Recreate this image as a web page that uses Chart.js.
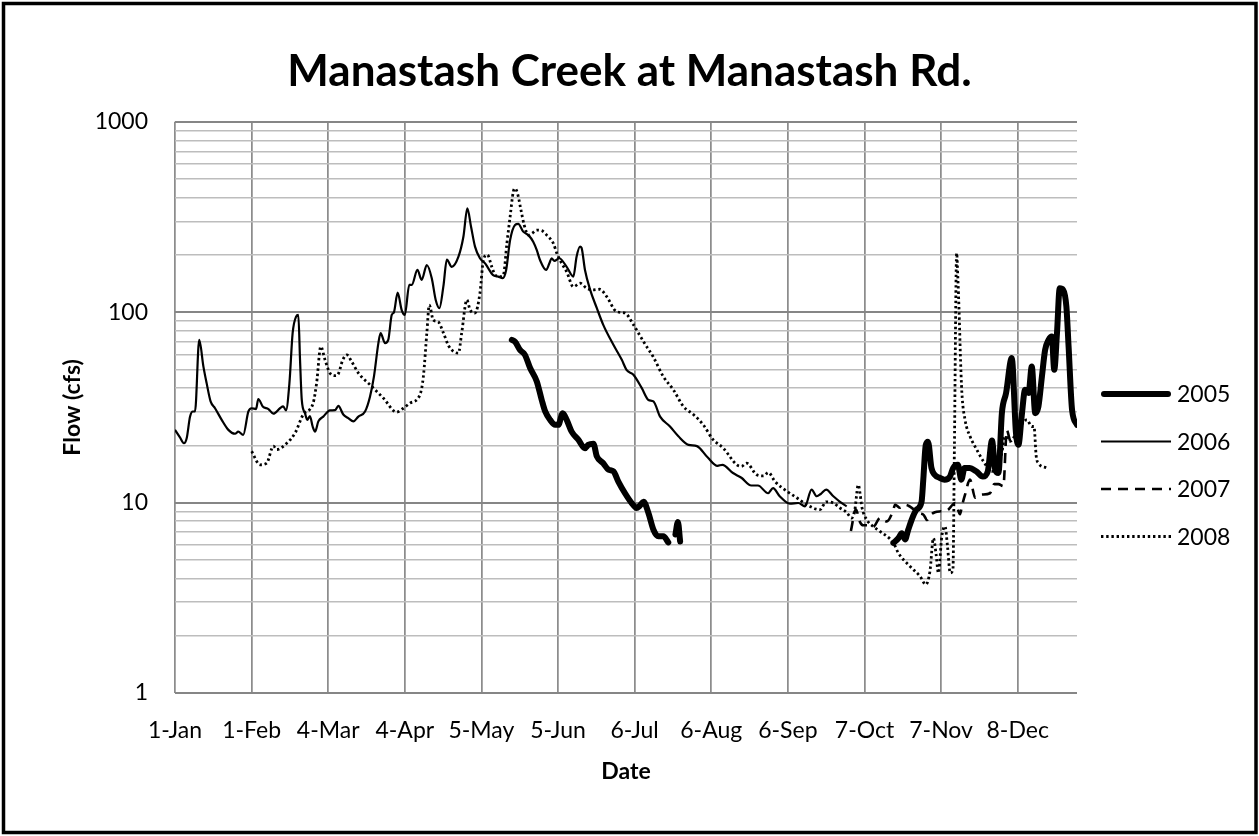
<!DOCTYPE html>
<html>
<head>
<meta charset="utf-8">
<script src="https://cdn.jsdelivr.net/npm/chart.js@4.4.1/dist/chart.umd.min.js"></script>
<style>
  html, body { margin: 0; padding: 0; background: #fff; }
  canvas { display: block; }
</style>
</head>
<body>
<canvas id="c" width="1259" height="836"></canvas>
<script>
// ---- Data (day index: 0 = 1-Jan) ----
const xTickDays = [0, 31, 62, 93, 124, 155, 186, 217, 248, 279, 310, 341];
const xTickLabels = ['1-Jan', '1-Feb', '4-Mar', '4-Apr', '5-May', '5-Jun', '6-Jul', '6-Aug', '6-Sep', '7-Oct', '7-Nov', '8-Dec'];
const yTickLabels = [1, 10, 100, 1000];
const seriesNames = ['2005', '2006', '2007', '2008'];

const days2005 = [136.3,137.6,139.6,141.6,143.7,146.4,148.4,149.8,151.8,153.8,155.1,156.9,158.5,160.5,163.2,165.9,167.2,169.3,170.7,173.3,175.4,177.4,179.4,182.1,184.8,186.8,188,189.6,191.6,193.6,195.6,197.6,199.6,
  201,202.5,203.5,204.4,
  250,
  290.7,292.7,294.1,295.4,296.7,298.7,300.1,302.1,302.8,303.8,304.7,306.1,307.4,309.4,311.4,313.6,314.9,316.8,318.2,319.5,321.5,324.2,326.9,328.9,330.6,331.9,333.2,334.6,336.3,338.6,340.3,341.3,342.6,344,345.4,346.7,348.1,349.4,350.8,352.1,353.5,354.8,355.8,356.9,358,359.4,360.7,361.6,363,365];
const flow2005 = [71.5,70,63.4,59.7,50.9,43.3,34.6,30.1,27.2,25.6,25.6,29.5,27.2,23.6,21.4,19.3,20.1,20.4,17.5,16.1,14.9,14.6,12.9,11.2,9.95,9.37,9.6,10.1,8.8,7.2,6.65,6.65,6.18,
  null,6.8,7.9,6.25,
  null,
  6.14,6.5,6.9,6.4,7.2,8.5,9.2,10.1,13.2,20.1,20.9,15.2,14,13.5,13.2,13.7,15.2,15.8,13.2,15.2,15.2,14.6,13.7,14.6,21.2,14.9,14.3,29.5,37.6,57.4,23.2,20.1,28.3,39.1,37.6,51.8,29.5,32,45.9,63.4,71.5,74.5,49.8,77.6,133.6,131,107,66,30.7,25.6];

const days2006 = [0,2,3.6,4.7,6.1,7.2,8.1,9.8,11.5,12.8,14.4,16.2,18.9,21.6,24.3,25.6,27.6,29.7,31,32.8,33.7,35.5,37.8,39.8,42.5,43.8,44.9,46.3,47.6,49,49.9,50.6,51.3,52.6,53.5,54.6,55.7,56.7,58,60,62.7,64.8,66.1,68.1,70.1,72.2,74.2,76.9,78.9,80.5,82.3,83.2,85,86.3,87.7,88.6,90.1,91.7,93,94.8,95.8,98.1,99.8,101.9,103.9,105.5,107,108.6,110,112,114.7,116.7,118.3,119.8,121.4,123.4,125.5,126.8,128.6,130.8,132.6,134,135.6,137.6,138.9,140.9,143,145,146.4,147.7,150.2,151.5,152.4,153.5,155.5,158.5,161.2,162.5,163.9,164.5,165.9,168,170.7,173.3,177.4,180.8,182.7,185.5,188.9,191.6,193.6,196.3,200.3,203.7,207.8,211.2,215.5,219.5,221.5,225.8,229.2,233.2,235.9,240,242,244.7,248.8,252.2,254.9,257.6,259.7,261.3,263.5,266.4,269.1,271.8];
const flow2006 = [24.1,22,20.5,21.7,28.3,30.1,30.1,71.5,51.8,42.4,34,31.3,27.2,24.1,23,23.6,22.7,30.1,31.3,31,35,32,31,29.3,31.3,32,30.5,42.4,77.6,94.8,96.7,56,34.6,29.5,27.2,28.5,25.1,23.6,26.7,28.3,30.5,30.6,32.2,29,27.8,26.7,28.3,30.1,36,45.9,68.8,77.6,68.8,71.5,96.7,100,126.7,102.9,96.7,139,139,166.7,148,177,150.8,116,105,136.6,189,173,195.7,249,351,281,221,192,180.6,170,157,153.8,150.8,166.7,239,287,291,265,254,234,212,188,166.7,180.6,192,186,192,173,153.8,195.7,221,218,166.7,131,105,85.8,67.4,56.2,49.8,46.9,39.9,34.6,34,28.3,25.1,22.3,20.1,19.8,17.3,15.6,15.8,14.3,13.5,12.3,12.3,11.2,11.9,10.8,9.87,9.95,9.55,11.7,10.8,11.1,11.7,10.8,10.1,9.55];

const days2007 = [273.5,275.5,277.2,278.5,280.5,282.5,285.3,288,290.5,291.4,293.4,295.4,297,299,301,303,304.3,305.7,307.5,310,312.5,315.7,317.7,318.4,319.7,321.7,323.8,326,329.8,331.5,333.2,335.2,336.6,338,339.3,341.3];
const flow2007 = [7.1,9.2,7.9,7.6,7.6,7.45,8.3,7.97,9,9.75,9.4,9.75,9.6,9.2,8.8,8.6,8.1,8.6,8.9,9,9.1,9.95,8.7,9.55,11,13.2,10.6,11,11.2,12.5,12.5,12.2,24,21,20.5,21.8];

const days2008 = [31,34.4,37.1,39.8,41.2,45.2,48.6,51.9,55.9,57.3,59,60.7,62.7,64.8,66.1,67.9,69.5,71.5,74.2,78.9,84.3,89.7,92.4,95.1,99.1,100.5,101.9,102.9,104.5,106.5,108.6,110.6,112.8,114.7,116,118.1,119.4,121.4,123.4,124.8,126.4,128.2,129.5,131.6,132.9,134.3,135.6,136.9,137.6,138.6,140,141.3,143,144.4,146.4,148.4,150.4,153.1,154.5,156.5,158.5,161.2,163.9,166.6,169.3,171.9,174.7,178.7,182.1,185.5,189.6,193.6,197.6,201.7,205.7,209.8,213.8,217.5,221.9,227.3,229.2,231.3,235.4,238.1,240.1,242.8,247.5,251.6,255.6,261,263.5,266.4,269.1,271.8,273.8,275.1,276.5,277.2,277.9,279.9,282.5,285.3,290.7,292.7,297.4,301.5,303.8,305.5,306.9,308,308.9,310.3,311.6,312.6,313.7,314.8,315.4,316.3,316.8,317.3,317.8,318.4,319.7,321.7,324.4,327.1,330.5,332.5,334.5,335.9,338,341,344.7,346.7,347.6,348.5,349.4,352.8];
const flow2008 = [18.6,15.8,16.1,19.8,19,20.5,23.2,29,33.3,42.4,66,56.2,47.9,46.4,47.5,56.2,59.7,55,47.9,41.6,35.4,29.9,31.3,33.3,36.8,45.9,77.6,109,91,89,78,67,62,61,77.6,116,103,99,126,188,200,173,157,153.8,157,230,317,430,447,421,344,287,254,259,270,268,254,230,204,180.6,163,136,142,133.6,131,132,120.7,100.7,99,86,70,58,45.9,39.1,32,29,25.6,21.6,19.3,15.8,15.5,16.1,14,13.8,14.4,12.9,11.5,10.6,9.75,9.18,10.1,9.95,9.37,8.88,8.3,9.18,12.4,11.2,9.55,8.13,7.5,7.06,6.14,5.44,4.63,4.1,3.71,4.36,6.5,5.33,4.27,6.65,7.5,5.89,4.27,4.45,20,204,150,100,60,38,27.2,22.3,19,16.5,14.6,14.9,18,22.3,21,24,27.2,25.1,25.1,17.5,16.1,15.2];

// ---- Build points from arrays ----
function pts(days, flows) { return days.map((d, i) => ({ x: d, y: flows[i] })); }

const FONT = "Lato, 'Open Sans', 'DejaVu Sans', sans-serif";

const framePlugin = {
  id: 'frame',
  beforeDraw(chart) {
    const ctx = chart.ctx;
    ctx.save();
    ctx.fillStyle = '#ffffff';
    ctx.fillRect(0, 0, chart.width, chart.height);
    ctx.strokeStyle = '#000000';
    ctx.lineWidth = 3.5;
    ctx.strokeRect(3.5, 3.5, 1252.5, 829);
    ctx.restore();
  }
};

const sideLegend = {
  id: 'sideLegend',
  afterDraw(chart, args, opts) {
    const ctx = chart.ctx;
    chart.data.datasets.forEach((ds, i) => {
      const y = opts.top + i * opts.spacing;
      ctx.save();
      ctx.strokeStyle = ds.borderColor;
      ctx.lineWidth = ds.borderWidth;
      ctx.lineCap = ds.borderCapStyle || 'butt';
      ctx.setLineDash(ds.borderDash || []);
      const inset = (ds.borderCapStyle === 'round') ? ds.borderWidth / 2 : 0;
      ctx.beginPath();
      ctx.moveTo(opts.x1 + inset, y);
      ctx.lineTo(opts.x2 - inset, y);
      ctx.stroke();
      ctx.setLineDash([]);
      ctx.fillStyle = '#000';
      ctx.font = opts.font;
      ctx.textAlign = 'left';
      ctx.textBaseline = 'middle';
      ctx.fillText(ds.label, opts.textX, y + 1);
      ctx.restore();
    });
  }
};

const yGridValues = [];
for (let e = 0; e < 3; e++) for (let m = 1; m < 10; m++) yGridValues.push(m * Math.pow(10, e));
yGridValues.push(1000);

new Chart(document.getElementById('c'), {
  type: 'line',
  data: {
    datasets: [
      { label: seriesNames[0], data: pts(days2005, flow2005), borderColor: '#000', borderWidth: 6, borderCapStyle: 'round', borderJoinStyle: 'round', spanGaps: false },
      { label: seriesNames[1], data: pts(days2006, flow2006), borderColor: '#000', borderWidth: 2.2, borderJoinStyle: 'round' },
      { label: seriesNames[2], data: pts(days2007, flow2007), borderColor: '#000', borderWidth: 2.6, borderDash: [10, 7] },
      { label: seriesNames[3], data: pts(days2008, flow2008), borderColor: '#000', borderWidth: 2.8, borderDash: [2.4, 2.8] }
    ]
  },
  options: {
    responsive: false,
    animation: false,
    events: [],
    elements: {
      point: { radius: 0 },
      line: { cubicInterpolationMode: 'monotone', fill: false }
    },
    layout: { padding: { left: 10, right: 10, top: 10, bottom: 10 } },
    plugins: {
      legend: { display: false },
      tooltip: { enabled: false },
      title: {
        display: true,
        text: 'Manastash Creek at Manastash Rd.',
        color: '#000',
        font: { family: FONT, size: 44, weight: 'bold' },
        padding: { top: 35, bottom: 24 }
      },
      sideLegend: { x1: 1101, x2: 1171, textX: 1177, top: 394, spacing: 47.5, font: '23px ' + FONT }
    },
    scales: {
      x: {
        type: 'linear',
        min: 0,
        max: 365,
        afterBuildTicks: s => { s.ticks = xTickDays.map(v => ({ value: v })); },
        afterFit: s => { s.height = 133; },
        ticks: {
          autoSkip: false,
          maxRotation: 0,
          padding: 24,
          color: '#000',
          font: { family: FONT, size: 23 },
          callback: v => { const i = xTickDays.indexOf(v); return i >= 0 ? xTickLabels[i] : ''; }
        },
        grid: { color: '#8c8c8c', lineWidth: 1.75, drawTicks: false },
        border: { display: false },
        title: { display: true, text: 'Date', color: '#000', font: { family: FONT, size: 23, weight: 'bold' }, padding: { top: 0, bottom: 41 } }
      },
      y: {
        type: 'logarithmic',
        min: 1,
        max: 1000,
        afterBuildTicks: s => { s.ticks = yGridValues.map(v => ({ value: v })); },
        afterFit: s => { s.width = 165; },
        ticks: {
          autoSkip: false,
          padding: 27,
          color: '#000',
          font: { family: FONT, size: 23 },
          callback: v => yTickLabels.includes(v) ? String(v) : ''
        },
        grid: {
          drawTicks: false,
          color: c => yTickLabels.includes(c.tick && c.tick.value) ? '#868686' : '#bdbdbd',
          lineWidth: c => yTickLabels.includes(c.tick && c.tick.value) ? 2 : 1.5
        },
        border: { display: false },
        title: { display: true, text: 'Flow (cfs)', color: '#000', font: { family: FONT, size: 23, weight: 'bold' }, padding: { top: 49, bottom: 0 } }
      },
      yRight: {
        type: 'linear',
        position: 'right',
        display: true,
        afterFit: s => { s.width = 172; },
        ticks: { display: false },
        grid: { display: false, drawTicks: false },
        border: { display: false }
      }
    }
  },
  plugins: [framePlugin, sideLegend]
});
</script>
</body>
</html>
